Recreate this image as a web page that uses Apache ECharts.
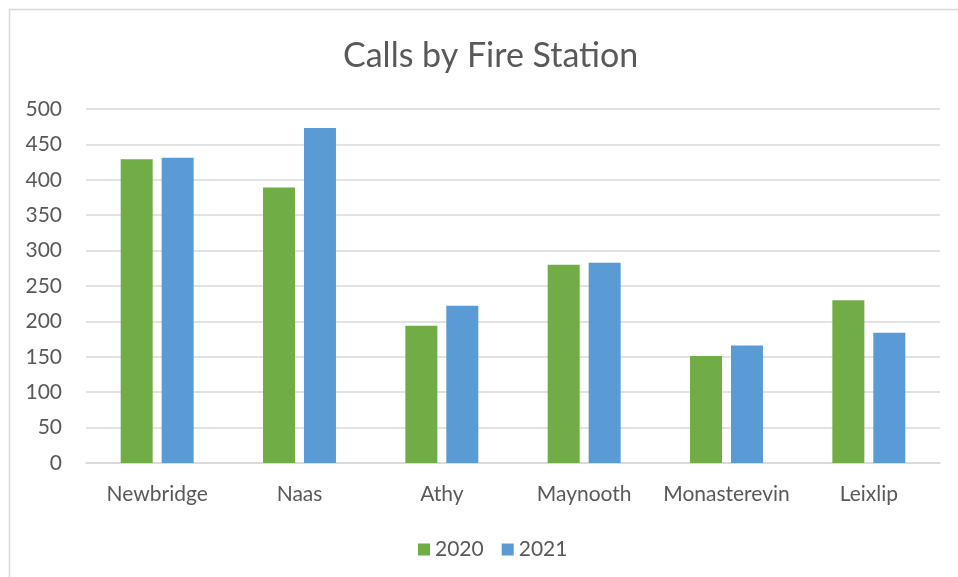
<!DOCTYPE html>
<html>
<head>
<meta charset="utf-8">
<script src="https://cdn.jsdelivr.net/npm/echarts@6/dist/echarts.min.js"></script>
<style>
html,body{margin:0;padding:0;background:#fff;}
#c{width:958px;height:577px;}
</style>
</head>
<body>
<div id="c"></div>
<script>
var categories = ['Newbridge', 'Naas', 'Athy', 'Maynooth', 'Monasterevin', 'Leixlip'];
var values2020 = [429, 389, 194, 280, 151, 230];
var values2021 = [431, 473, 222, 283, 166, 184];
var seriesNames = ['2020', '2021'];

var chart = echarts.init(document.getElementById('c'));
var font = 'Lato, "Noto Sans", sans-serif';
chart.setOption({
  animation: false,
  backgroundColor: '#fff',
  graphic: [{
    type: 'rect',
    shape: {x: 9.5, y: 9.5, width: 1200, height: 1200},
    style: {fill: 'none', stroke: '#d9d9d9', lineWidth: 1.5},
    silent: true
  }],
  title: {
    text: 'Calls by Fire Station',
    left: 343,
    top: 39,
    padding: 0,
    textStyle: {fontFamily: font, fontSize: 34, fontWeight: 'normal', color: '#595959'}
  },
  legend: {
    data: seriesNames,
    top: 534,
    left: 413,
    itemWidth: 12,
    itemHeight: 12,
    itemGap: 18,
    icon: 'rect',
    textStyle: {fontFamily: font, fontSize: 21, color: '#595959'}
  },
  grid: {left: 86, right: 18, top: 109, bottom: 114},
  xAxis: {
    type: 'category',
    data: categories,
    axisTick: {show: false},
    axisLine: {lineStyle: {color: '#d9d9d9', width: 1.5}},
    axisLabel: {fontFamily: font, fontSize: 21, color: '#595959', margin: 21, interval: 0}
  },
  yAxis: {
    type: 'value',
    min: 0,
    max: 500,
    interval: 50,
    axisLine: {show: false},
    axisTick: {show: false},
    splitLine: {lineStyle: {color: '#d9d9d9', width: 1.5}},
    axisLabel: {fontFamily: font, fontSize: 21, color: '#595959', margin: 24}
  },
  series: [
    {name: seriesNames[0], type: 'bar', data: values2020, barWidth: 32, barGap: '28%',
     itemStyle: {color: '#70ad47'}},
    {name: seriesNames[1], type: 'bar', data: values2021, barWidth: 32, barGap: '28%',
     itemStyle: {color: '#5b9bd5'}}
  ]
});
</script>
</body>
</html>
